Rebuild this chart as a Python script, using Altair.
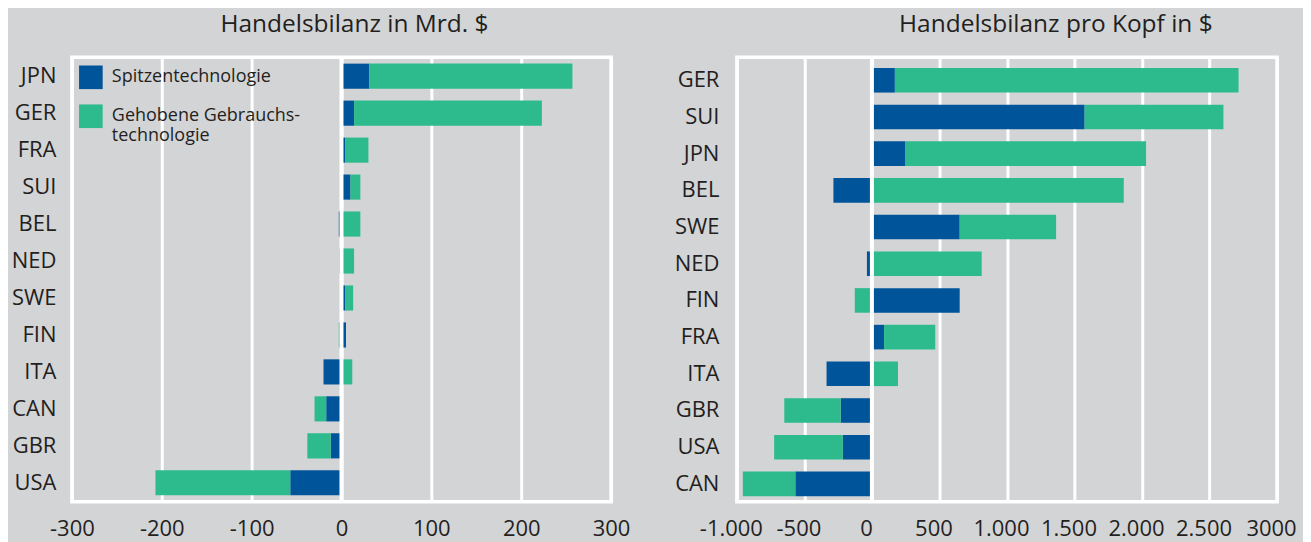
import altair as alt
import pandas as pd

# ---------------- data ----------------
series = ["Spitzentechnologie", "Gehobene Gebrauchstechnologie"]
series_colors = ["#00549a", "#2dbb8e"]

left_countries = ["JPN", "GER", "FRA", "SUI", "BEL", "NED", "SWE", "FIN", "ITA", "CAN", "GBR", "USA"]
left_spitzen = [31, 14, 4, 10, -3, -2, 4, 5, -20, -17, -12, -57]
left_gehoben = [226, 209, 26, 11, 21, 14, 9, -3, 12, -13, -26, -150]

right_countries = ["GER", "SUI", "JPN", "BEL", "SWE", "NED", "FIN", "FRA", "ITA", "GBR", "USA", "CAN"]
right_spitzen = [170, 1575, 245, -285, 650, -37, 650, 90, -336, -231, -216, -567]
right_gehoben = [2545, 1028, 1785, 1865, 714, 813, -127, 379, 193, -418, -508, -389]

left_ticks = [-300, -200, -100, 0, 100, 200, 300]
left_tick_labels = ["-300", "-200", "-100", "0", "100", "200", "300"]
right_ticks = [-1000, -500, 0, 500, 1000, 1500, 2000, 2500, 3000]
right_tick_labels = ["-1.000", "-500", "0", "500", "1.000", "1.500", "2.000", "2.500", "3000"]

left_title = "Handelsbilanz in Mrd. $"
right_title = "Handelsbilanz pro Kopf in $"

# ---------------- styling ----------------
FONT = "Open Sans"
TEXT = "#231f20"
BG = "#d3d4d6"


def long_table(countries, spitzen, gehoben):
    rows = []
    for c, s, g in zip(countries, spitzen, gehoben):
        rows.append({"country": c, "series": series[0], "value": s, "ord": 0})
        rows.append({"country": c, "series": series[1], "value": g, "ord": 1})
    return pd.DataFrame(rows)


def label_expr(ticks, labels):
    expr = "''"
    for t, l in reversed(list(zip(ticks, labels))):
        expr = f"datum.value == {t} ? '{l}' : ({expr})"
    return expr


legend_label_expr = (
    "datum.label == 'Gehobene Gebrauchstechnologie' ? "
    "['Gehobene Gebrauchs-', 'technologie'] : datum.label"
)


def panel(df, countries, ticks, labels, title, width, height, legend,
          title_dx, title_offset, ylab_pad, xlab_offset, pin, pout, align):
    domain = [ticks[0], ticks[-1]]
    bars = alt.Chart(df).mark_bar().encode(
        x=alt.X(
            "value:Q",
            stack="zero",
            scale=alt.Scale(domain=domain, nice=False, zero=False),
            axis=alt.Axis(
                values=ticks,
                labelExpr=label_expr(ticks, labels),
                title=None,
                grid=True,
                labelFlush=False,
                labelOverlap=False,
                labelOffset=xlab_offset,
            ),
        ),
        y=alt.Y(
            "country:N",
            sort=countries,
            scale=alt.Scale(paddingInner=pin, paddingOuter=pout, align=align),
            axis=alt.Axis(title=None, labelPadding=ylab_pad, grid=False),
        ),
        color=alt.Color(
            "series:N",
            scale=alt.Scale(domain=series, range=series_colors),
            legend=legend,
        ),
        order=alt.Order("ord:Q"),
    )
    zero = alt.Chart(pd.DataFrame({"z": [0]})).mark_rule(
        color="white", strokeWidth=4
    ).encode(x=alt.X("z:Q"))
    return alt.layer(bars, zero).properties(
        width=width,
        height=height,
        title=alt.TitleParams(
            title,
            font=FONT,
            fontSize=24.5,
            fontWeight="normal",
            color=TEXT,
            anchor="middle",
            dx=title_dx,
            offset=title_offset,
        ),
    )


left_legend = alt.Legend(
    orient="none",
    legendX=7,
    legendY=8,
    title=None,
    symbolType="square",
    symbolSize=560,
    symbolStrokeWidth=0,
    symbolOpacity=1,
    labelFont=FONT,
    labelFontSize=18,
    labelColor=TEXT,
    labelExpr=legend_label_expr,
    labelLimit=400,
    labelOffset=9,
    rowPadding=15,
    padding=0,
)

left = panel(long_table(left_countries, left_spitzen, left_gehoben),
             left_countries, left_ticks, left_tick_labels, left_title,
             540, 445, left_legend, 13, 17.5, 16, 0, 0.32, 0.17, 0.5)
right = panel(long_table(right_countries, right_spitzen, right_gehoben),
              right_countries, right_ticks, right_tick_labels, right_title,
              541, 445, None, 49, 17.5, 18, -6, 0.33, 0.22, 0.66)

chart = (
    alt.hconcat(left, right, spacing=40)
    .resolve_scale(color="independent", x="independent", y="independent")
    .properties(background=BG, padding={"left": 1, "top": 2, "right": 5, "bottom": 0})
    .configure_view(stroke="white", strokeWidth=3.5)
    .configure_axis(
        domain=False,
        ticks=False,
        labelFont=FONT,
        labelFontSize=22,
        labelColor=TEXT,
        gridColor="white",
        gridWidth=3,
        gridOpacity=1,
    )
    .configure_axisX(labelPadding=17)
)

chart.save("out.html", embed_options={"renderer": "svg", "actions": False})
